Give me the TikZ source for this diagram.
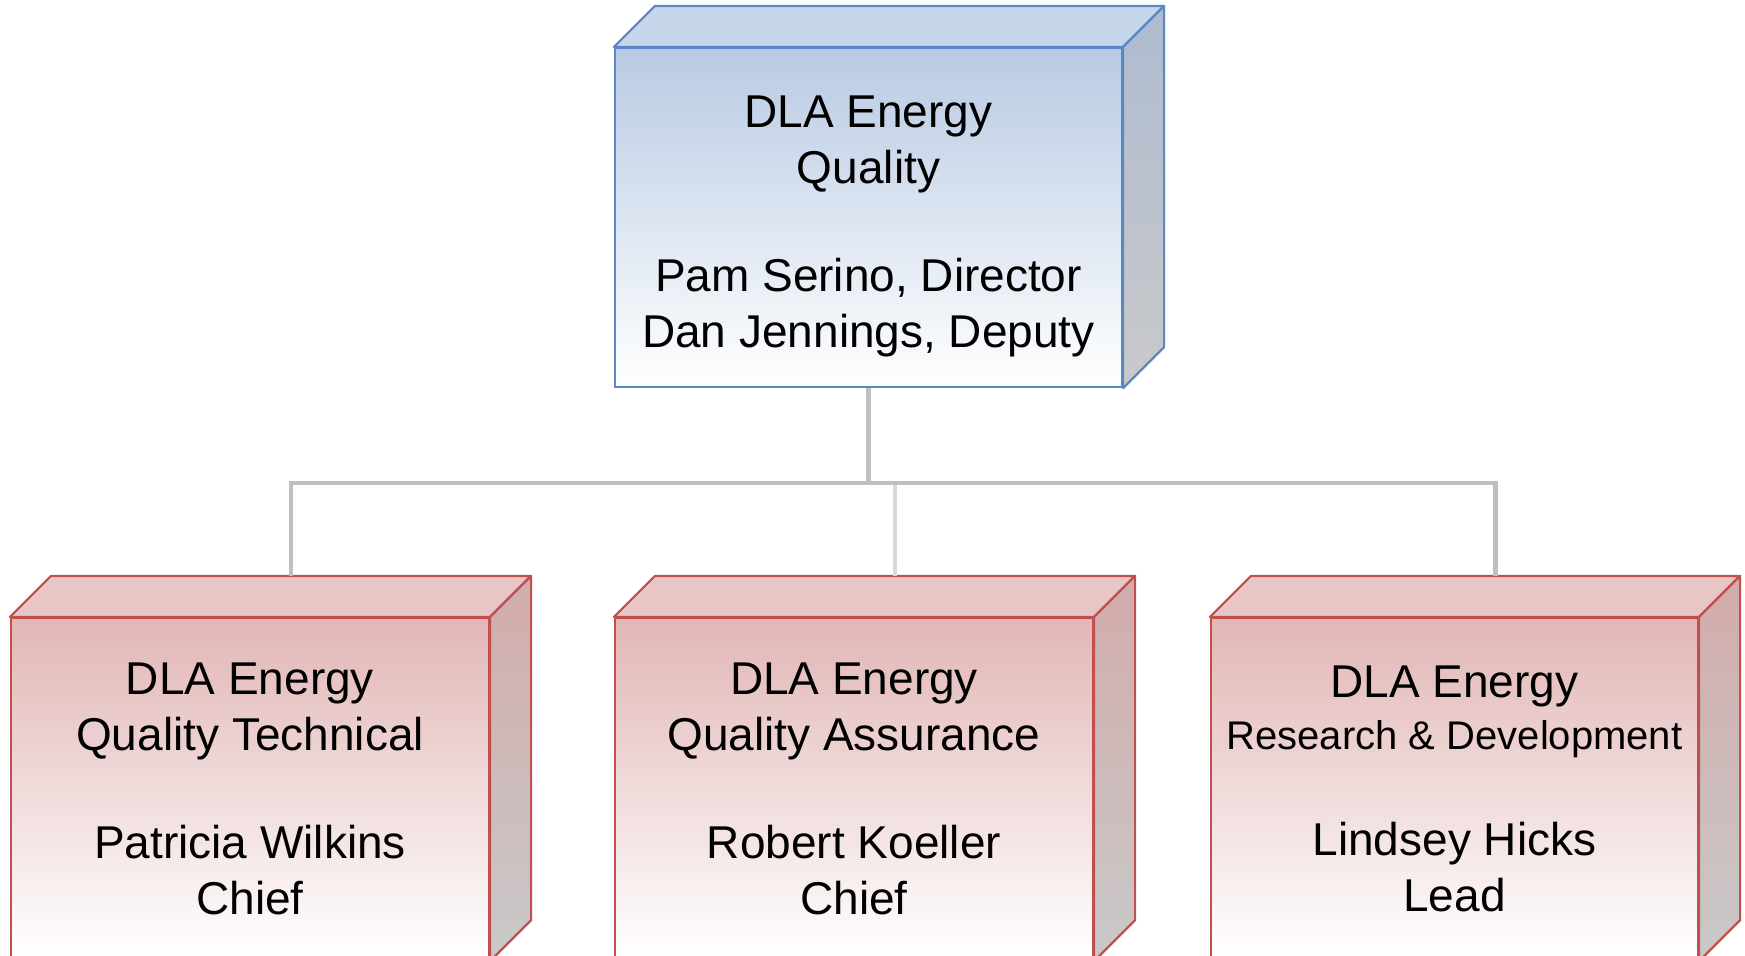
\documentclass[tikz,border=0pt]{standalone}
\usepackage{fontspec}
\setmainfont{Liberation Sans}
\usetikzlibrary{calc, positioning}

\definecolor{bluefront}{HTML}{B8CAE3}
\definecolor{bluetop}{HTML}{C6D6EA}
\definecolor{blueside}{HTML}{AEBBD0}
\definecolor{blueedge}{HTML}{5A87C6}
\definecolor{redfront}{HTML}{E2B6B6}
\definecolor{redtop}{HTML}{E8C6C6}
\definecolor{redside}{HTML}{D3ABAB}
\definecolor{rededge}{HTML}{C0504D}
\definecolor{sidegray}{HTML}{C9C9C9}
\definecolor{linkgray}{HTML}{BFBFBF}
\definecolor{linklight}{HTML}{D9D9D9}

% top face and right face of a box, from the front node
\newcommand{\boxfaces}[4]{%
  \filldraw[draw=#4, fill=#2, line width=1.1pt, line join=round]
    (#1.north west) -- ++(41,-41) -- ($(#1.north east)+(41,-41)$) -- (#1.north east) -- cycle;
  \filldraw[draw=#4, top color=#3, bottom color=sidegray, line width=1.1pt, line join=round]
    (#1.north east) -- ++(41,-41) -- ($(#1.south east)+(41,-41)$) -- (#1.south east) -- cycle;
}

\begin{document}
\begin{tikzpicture}
  [x=0.5pt, y=-0.5pt,
  txt/.style={align=center, font=\fontsize{23}{28}\selectfont, inner sep=0pt},
  dirbox/.style={txt, rectangle, draw=blueedge, line width=1.1pt, top color=bluefront, bottom color=white,
                 minimum width=253.5pt, minimum height=169.5pt},
  divbox/.style={txt, rectangle, draw=rededge, line width=1.1pt, top color=redfront, bottom color=white,
                 minimum width=239pt, minimum height=171pt},
  link/.style={draw=linkgray, line width=2.2pt}]

  \useasboundingbox (0,0) rectangle (1745,955);
  \clip (0,0) rectangle (1745,955);

  \node[dirbox] (dir) at (868.5,217.5)
    {\rule{0pt}{25pt}DLA Energy\\Quality\\[26pt]Pam Serino, Director\\Dan Jennings, Deputy};
  \boxfaces{dir}{bluetop}{blueside}{blueedge}

  \node[divbox] (qt) at (250,789) {DLA Energy\\Quality Technical\\[26pt]Patricia Wilkins\\Chief};
  \node[divbox] (qa) at (854,789) {DLA Energy\\Quality Assurance\\[26pt]Robert Koeller\\Chief};
  \node[divbox, minimum width=243.5pt] (rd) at (1454.5,789)
    {DLA Energy\\[-2pt]{\fontsize{20}{25}\selectfont Research \& Development}\\[25pt]Lindsey Hicks\\Lead};
  \boxfaces{qt}{redtop}{redside}{rededge}
  \boxfaces{qa}{redtop}{redside}{rededge}
  \boxfaces{rd}{redtop}{redside}{rededge}

  % connectors to the back top edges
  \coordinate (qt top) at ($(qt.north)+(41,-41)$);
  \coordinate (qa top) at ($(qa.north)+(41,-41)$);
  \coordinate (rd top) at ($(rd.north)+(41,-41)$);
  \coordinate (bar) at ($(dir.south)+(0,95)$);

  \draw[link, draw=linklight] (bar) -| (qa top);
  \draw[link] (dir.south) -- (bar) -| (qt top);
  \draw[link] (bar) -| (rd top);
  \draw[link] (bar) -- ++(27,0);

\end{tikzpicture}
\end{document}
